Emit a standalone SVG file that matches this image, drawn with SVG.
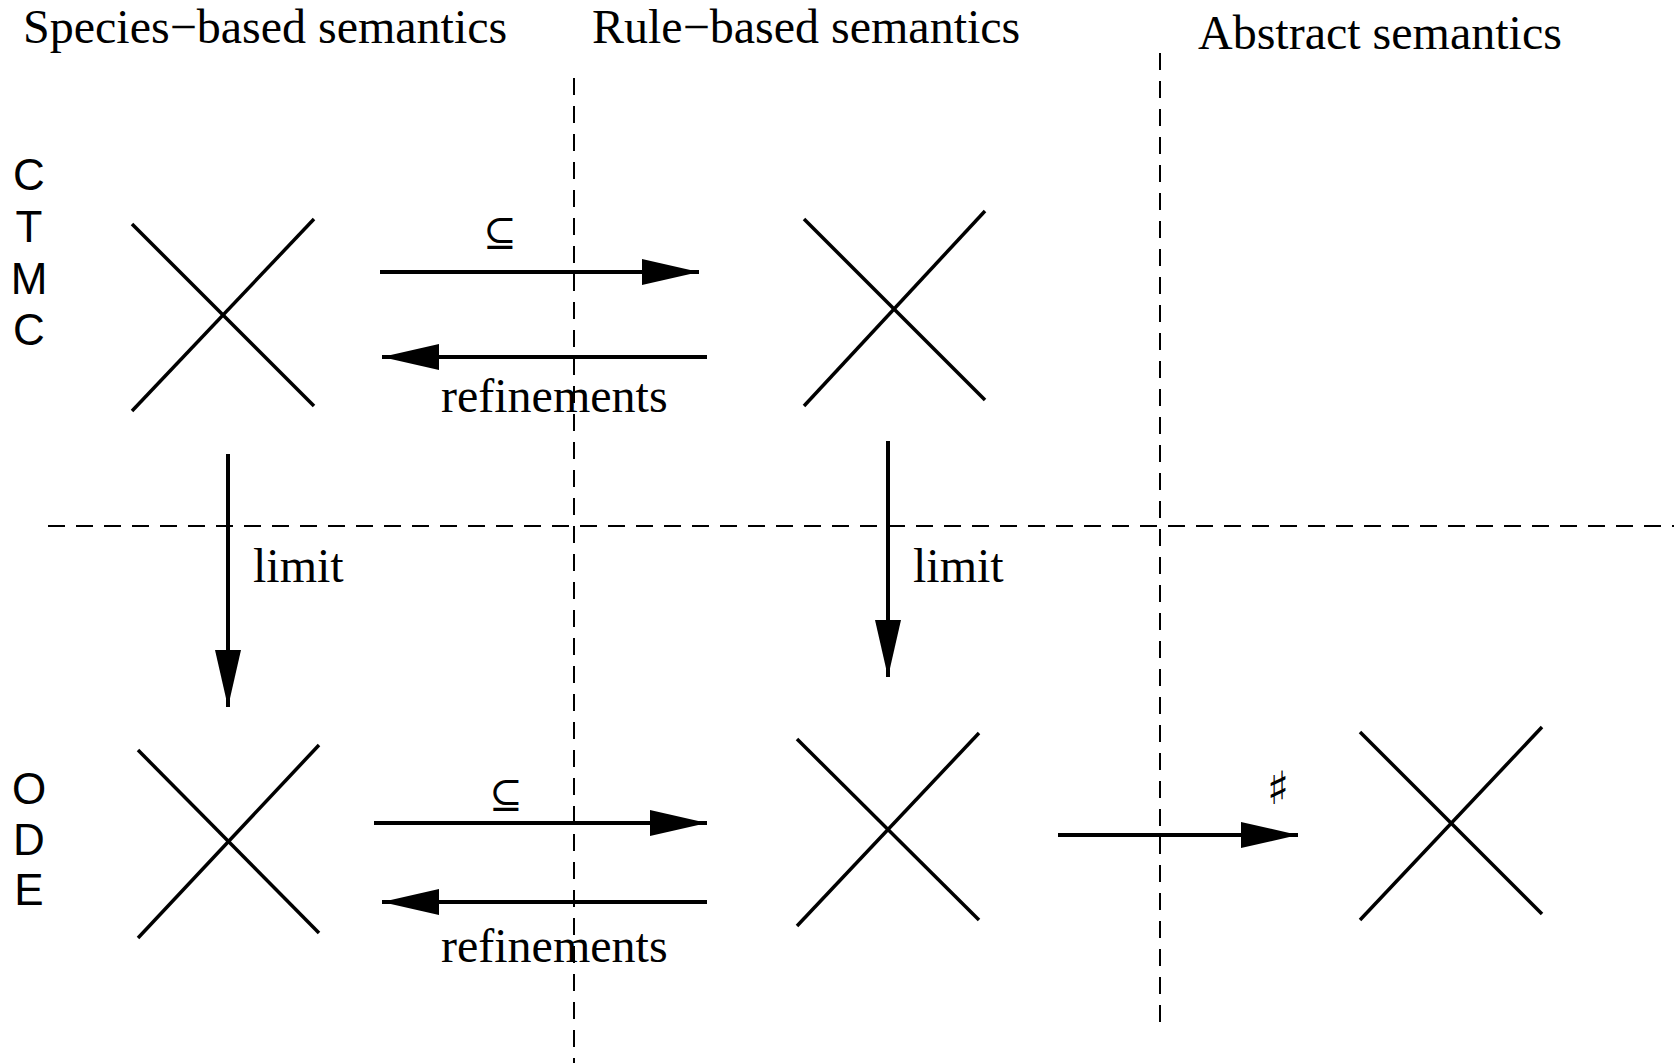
<svg xmlns="http://www.w3.org/2000/svg" width="1674" height="1063" viewBox="0 0 1674 1063">
<style>
.bg{fill:#fff}
.title{font-family:"Liberation Serif","Times New Roman",serif;font-size:48px;fill:#000}
.lbl{font-family:"Liberation Serif","Times New Roman",serif;font-size:48px;fill:#000}
.side{font-family:"Liberation Sans",Arial,sans-serif;font-size:44px;fill:#000;text-anchor:middle}
.sym{font-family:"DejaVu Serif","DejaVu Sans",serif;font-size:40px;fill:#000;text-anchor:middle}
.dash{stroke:#000;stroke-width:2;stroke-dasharray:17 11;fill:none}
.x line{stroke:#000;stroke-width:3.5;stroke-linecap:butt}
.arr{stroke:#000;stroke-width:4;fill:none;marker-end:url(#ah)}
</style>
<defs>
<marker id="ah" markerUnits="userSpaceOnUse" markerWidth="60" markerHeight="30" refX="57" refY="13" orient="auto">
<path d="M0,0 L57,13 L0,26 Z" fill="#000"/>
</marker>
</defs>
<rect class="bg" x="0" y="0" width="1674" height="1063"/>
<g id="titles">
<text class="title" x="23" y="43">Species−based semantics</text>
<text class="title" x="592" y="43">Rule−based semantics</text>
<text class="title" x="1198" y="49">Abstract semantics</text>
</g>
<g id="row-labels">
<text class="side" x="29" y="190">C</text>
<text class="side" x="29" y="242">T</text>
<text class="side" x="29" y="294">M</text>
<text class="side" x="29" y="345">C</text>
<text class="side" x="29" y="804">O</text>
<text class="side" x="29" y="855">D</text>
<text class="side" x="29" y="905">E</text>
</g>
<g id="grid">
<line class="dash" x1="574" y1="78" x2="574" y2="1063"/>
<line class="dash" x1="1160" y1="53" x2="1160" y2="1030"/>
<line class="dash" x1="48" y1="526" x2="1674" y2="526"/>
</g>
<g id="node-ctmc-species" class="x">
<line x1="132" y1="224" x2="314" y2="406"/>
<line x1="132" y1="411" x2="314" y2="219"/>
</g>
<g id="node-ctmc-rule" class="x">
<line x1="804" y1="219" x2="985" y2="400"/>
<line x1="804" y1="406" x2="985" y2="211"/>
</g>
<g id="node-ode-species" class="x">
<line x1="138" y1="750" x2="319" y2="933"/>
<line x1="138" y1="938" x2="319" y2="745"/>
</g>
<g id="node-ode-rule" class="x">
<line x1="797" y1="739" x2="979" y2="920"/>
<line x1="797" y1="926" x2="979" y2="733"/>
</g>
<g id="node-abstract" class="x">
<line x1="1360" y1="732" x2="1542" y2="914"/>
<line x1="1360" y1="920" x2="1542" y2="727"/>
</g>
<g id="connectors">
<line class="arr" x1="380" y1="272" x2="699" y2="272"/>
<line class="arr" x1="707" y1="357" x2="382" y2="357"/>
<line class="arr" x1="374" y1="823" x2="707" y2="823"/>
<line class="arr" x1="707" y1="902" x2="382" y2="902"/>
<line class="arr" x1="228" y1="454" x2="228" y2="707"/>
<line class="arr" x1="888" y1="441" x2="888" y2="677"/>
<line class="arr" x1="1058" y1="835" x2="1298" y2="835"/>
</g>
<g id="connector-labels">
<text class="sym" x="500" y="246">⊆</text>
<text class="lbl" x="441" y="412">refinements</text>
<text class="sym" x="506" y="808">⊆</text>
<text class="lbl" x="441" y="962">refinements</text>
<text class="lbl" x="253" y="582">limit</text>
<text class="lbl" x="913" y="582">limit</text>
<text class="sym" x="1278" y="804" style="font-size:46px">♯</text>
</g>
</svg>
